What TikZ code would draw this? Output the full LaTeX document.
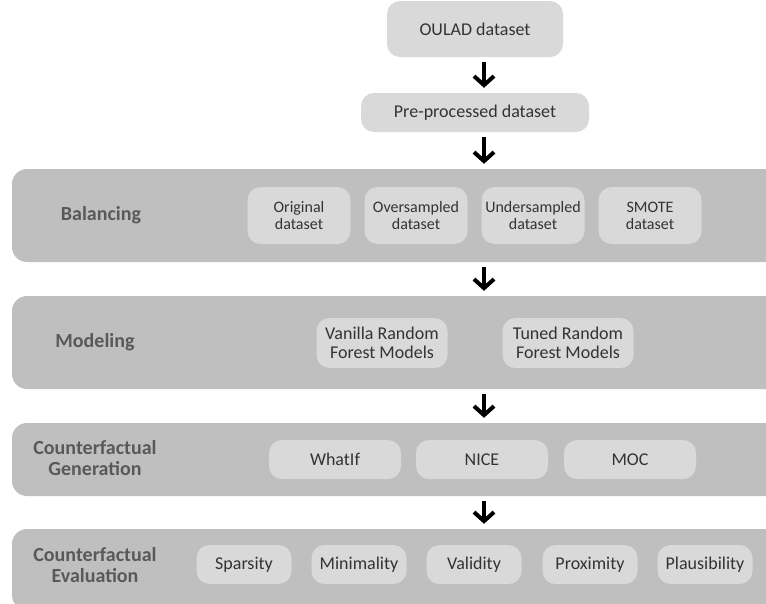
\documentclass[tikz,border=0pt]{standalone}
\usepackage{fontspec}
\setmainfont{Carlito}
\usepackage{xcolor}
\usepackage{tikz}
\usetikzlibrary{arrows.meta}
\definecolor{bandgray}{HTML}{BFBFBF}
\definecolor{boxgray}{HTML}{D9D9D9}
\definecolor{labelgray}{HTML}{595959}
\definecolor{textgray}{HTML}{333333}

\begin{document}
\begin{tikzpicture}[
  x=1pt, y=-1pt,
  band/.style={fill=bandgray, rounded corners=15pt, inner sep=0pt},
  box/.style={fill=boxgray, rounded corners=13pt, inner sep=0pt, align=center, text=textgray,
    font=\fontsize{18}{19}\selectfont},
  smallbox/.style={box, font=\fontsize{16}{17}\selectfont},
  stage/.style={align=center, text=labelgray, font=\fontsize{20}{21}\selectfont\bfseries},
  flow/.style={-{Straight Barb[length=9pt,width=20pt,line width=4pt]}, line width=4pt,
    shorten <=5pt, shorten >=5pt}
]
\useasboundingbox (0,0) rectangle (766,603);
\coordinate (axis) at (484,0);

\node[box, minimum width=176pt, minimum height=56pt] (oulad) at (475,29) {OULAD dataset};
\node[box, minimum width=228pt, minimum height=39pt] (pre) at (475,112.5) {Pre-processed dataset};

\node[band, minimum width=778pt, minimum height=93pt] (balancing) at (401,215.5) {};
\node[stage] (balancinglabel) at (101,215) {Balancing};
\node[smallbox, minimum width=103pt, minimum height=57pt] (original) at (299,215.5) {Original\\dataset};
\node[smallbox, minimum width=103pt, minimum height=57pt] (over) at (416,215.5) {Oversampled\\dataset};
\node[smallbox, minimum width=103pt, minimum height=57pt] (under) at (533,215.5) {Undersampled\\dataset};
\node[smallbox, minimum width=103pt, minimum height=57pt] (smote) at (650,215.5) {SMOTE\\dataset};

\node[band, minimum width=778pt, minimum height=93pt] (modeling) at (401,342.5) {};
\node[stage] (modelinglabel) at (95,342) {Modeling};
\node[box, minimum width=131pt, minimum height=50pt] (vanilla) at (382,343) {Vanilla Random\\Forest Models};
\node[box, minimum width=131pt, minimum height=50pt] (tuned) at (568,343) {Tuned Random\\Forest Models};

\node[band, minimum width=778pt, minimum height=73pt] (generation) at (401,459.5) {};
\node[stage] (generationlabel) at (95,458) {Counterfactual\\Generation};
\node[box, minimum width=132pt, minimum height=39pt] (whatif) at (335,459.5) {WhatIf};
\node[box, minimum width=132pt, minimum height=39pt] (nice) at (482,459.5) {NICE};
\node[box, minimum width=132pt, minimum height=39pt] (moc) at (630,459.5) {MOC};

\node[band, minimum width=778pt, minimum height=81pt] (evaluation) at (401,569.5) {};
\node[stage] (evaluationlabel) at (95,565) {Counterfactual\\Evaluation};
\node[box, minimum width=95pt, minimum height=39pt] (sparsity) at (244,564.5) {Sparsity};
\node[box, minimum width=95pt, minimum height=39pt] (minimality) at (359,564.5) {Minimality};
\node[box, minimum width=95pt, minimum height=39pt] (validity) at (474,564.5) {Validity};
\node[box, minimum width=95pt, minimum height=39pt] (proximity) at (590,564.5) {Proximity};
\node[box, minimum width=95pt, minimum height=39pt] (plausibility) at (705,564.5) {Plausibility};

\draw[flow] (oulad.south -| axis) -- (pre.north -| axis);
\draw[flow] (pre.south -| axis) -- (balancing.north -| axis);
\draw[flow] (balancing.south -| axis) -- (modeling.north -| axis);
\draw[flow] (modeling.south -| axis) -- (generation.north -| axis);
\draw[flow] (generation.south -| axis) -- (evaluation.north -| axis);
\end{tikzpicture}
\end{document}
